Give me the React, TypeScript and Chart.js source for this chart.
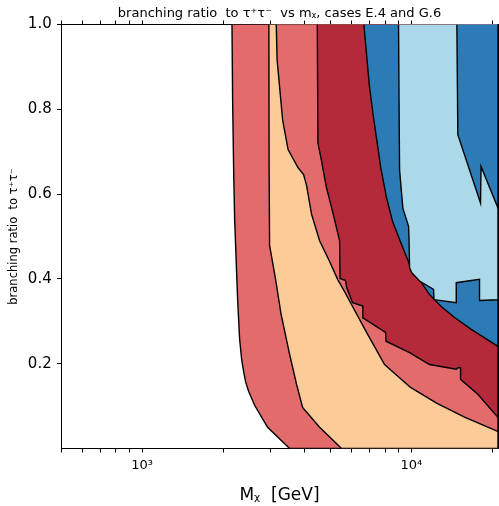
import React, { useEffect, useRef } from 'react';
import { Chart, registerables } from 'chart.js';

Chart.register(...registerables);

// ---- axis ranges / ticks ----
const X_MIN = 500;
const X_MAX = 21000;
const Y_MIN = 0;
const Y_MAX = 1;
const X_TICKS = [500, 600, 700, 800, 900, 1000, 2000, 3000, 4000, 5000, 6000, 7000, 8000, 9000, 10000, 20000];
const X_TICK_LABELS: Record<number, string> = { 1000: '10³', 10000: '10⁴' };
const Y_STEP = 0.2;

// ---- text ----
const TITLE = 'branching ratio  to τ⁺τ⁻  vs mᵪ, cases E.4 and G.6';
const X_TITLE = 'Mᵪ  [GeV]';
const Y_TITLE = 'branching ratio  to τ⁺τ⁻';

// ---- region boundaries (mass in GeV, branching ratio) ----
const B1_X = [2158, 2170, 2189, 2208, 2236, 2265, 2304, 2344, 2384, 2425, 2488, 2619, 2927, 3533];
const B1_Y = [1.0, 0.822, 0.657, 0.54, 0.446, 0.351, 0.258, 0.21, 0.182, 0.157, 0.135, 0.102, 0.05, 0.0];

const B2_X = [2959, 2965, 2977, 3134, 3286, 3533, 3751, 3948, 4566, 5511];
const B2_Y = [1.0, 0.657, 0.479, 0.399, 0.316, 0.222, 0.151, 0.097, 0.05, 0.0];

const B3_X = [3152, 3174, 3243, 3328, 3487, 3800, 3982, 4085, 4264, 4566, 4974, 5327, 5654, 6053, 6823, 7958, 9940, 12417, 15770, 21000];
const B3_Y = [1.0, 0.917, 0.853, 0.775, 0.705, 0.662, 0.646, 0.62, 0.552, 0.49, 0.441, 0.399, 0.37, 0.335, 0.274, 0.198, 0.144, 0.107, 0.074, 0.04];

const B4_X = [4477, 4500, 4633, 4835, 5116, 5418, 5440, 5702, 5751, 6053, 6610, 6610, 8027, 8061, 9856, 11694, 14694, 14923, 15248, 15248, 17672, 21000];
const B4_Y = [1.0, 0.721, 0.681, 0.617, 0.556, 0.49, 0.401, 0.396, 0.38, 0.344, 0.336, 0.308, 0.274, 0.253, 0.226, 0.198, 0.187, 0.191, 0.19, 0.163, 0.128, 0.073];

const B5_X = [6668, 6823, 6998, 7213, 7413, 7691, 8075, 8520, 9049, 9856, 10891, 11694, 12924, 14483, 16706, 21000];
const B5_Y = [1.0, 0.929, 0.853, 0.788, 0.736, 0.665, 0.594, 0.536, 0.493, 0.434, 0.392, 0.363, 0.335, 0.309, 0.281, 0.241];

const B6_X = [8970, 9009, 9049, 9307, 9772, 9813, 9856, 10025, 10735, 12100, 12150, 14694, 14694, 17930, 17930, 21000];
const B6_Y = [1.0, 0.822, 0.657, 0.567, 0.524, 0.493, 0.427, 0.415, 0.395, 0.375, 0.351, 0.344, 0.391, 0.399, 0.349, 0.351];

const B7_X = [14770, 14894, 18084, 18163, 21000];
const B7_Y = [1.0, 0.74, 0.579, 0.665, 0.567];

// ---- colours ----
const LIGHT_RED = '#e46b6c';
const PEACH = '#fccb98';
const DARK_RED = '#b42a3b';
const BLUE = '#2c7bb6';
const LIGHT_BLUE = '#abd9e9';

const LAYERS = [
  { xs: B1_X, ys: B1_Y, color: LIGHT_RED },
  { xs: B2_X, ys: B2_Y, color: PEACH },
  { xs: B3_X, ys: B3_Y, color: LIGHT_RED },
  { xs: B4_X, ys: B4_Y, color: DARK_RED },
  { xs: B5_X, ys: B5_Y, color: BLUE },
  { xs: B6_X, ys: B6_Y, color: LIGHT_BLUE },
  { xs: B7_X, ys: B7_Y, color: BLUE },
];

function polygon(xs: number[], ys: number[]) {
  const pts = xs.map((x, i) => ({ x, y: ys[i] }));
  const last = pts[pts.length - 1];
  if (last.x < X_MAX) pts.push({ x: X_MAX, y: last.y });
  pts.push({ x: X_MAX, y: Y_MAX });
  return pts;
}

const setTicks = (scale: any) => {
  scale.ticks = X_TICKS.map((v) => ({ value: v }));
};

const tickColor = (ctx: any) => (ctx.tick && Math.abs(ctx.tick.value) < 1e-9 ? 'rgba(0,0,0,0)' : '#000');

export default function App() {
  const ref = useRef<HTMLCanvasElement>(null);

  useEffect(() => {
    const canvas = ref.current;
    if (!canvas) return;
    Chart.defaults.font.family = "'DejaVu Sans'";
    Chart.defaults.color = '#000';

    const chart = new Chart(canvas, {
      type: 'line',
      data: {
        datasets: LAYERS.map((l, i) => ({
          data: polygon(l.xs, l.ys),
          backgroundColor: l.color,
          borderColor: '#000',
          borderWidth: 1.4,
          borderDash: [5000, 0],
          borderJoinStyle: 'miter',
          fill: 'shape',
          pointRadius: 0,
          tension: 0,
          order: LAYERS.length - i,
          xAxisID: 'x',
          yAxisID: 'y',
        })),
      },
      options: {
        responsive: false,
        animation: false,
        devicePixelRatio: 1,
        events: [],
        layout: { padding: 0 },
        plugins: {
          legend: { display: false },
          tooltip: { enabled: false },
          title: {
            display: true,
            text: TITLE,
            fullSize: false,
            color: '#000',
            font: { size: 13, weight: 'normal', family: "'DejaVu Sans'" },
            padding: { top: 6.3, bottom: 0 },
          },
        },
        scales: {
          x: {
            type: 'logarithmic',
            position: 'bottom',
            min: X_MIN,
            max: X_MAX,
            afterBuildTicks: setTicks,
            afterFit: (s: any) => { s.height = 57.5; },
            ticks: {
              autoSkip: false,
              maxRotation: 0,
              padding: 5,
              color: '#000',
              font: { size: 13 },
              callback: (v: any) => X_TICK_LABELS[Number(v)] ?? '',
            },
            grid: { drawOnChartArea: false, drawTicks: true, tickLength: 4, tickColor: '#000' },
            border: { display: true, color: '#000', width: 1 },
            title: { display: true, text: X_TITLE, color: '#000', font: { size: 17 }, padding: { top: 0, bottom: 0 } },
          },
          x2: {
            type: 'logarithmic',
            position: 'top',
            min: X_MIN,
            max: X_MAX,
            afterBuildTicks: setTicks,
            afterFit: (s: any) => { s.height = 2.6; },
            ticks: { display: false, autoSkip: false },
            grid: { drawOnChartArea: false, drawTicks: true, tickLength: 4, tickColor: '#000' },
            border: { display: true, color: '#000', width: 1 },
          },
          y: {
            type: 'linear',
            position: 'left',
            min: Y_MIN,
            max: Y_MAX,
            afterFit: (s: any) => { s.width = 61; },
            ticks: {
              stepSize: Y_STEP,
              padding: 5.3,
              color: '#000',
              font: { size: 15 },
              callback: (v: any) => (Math.abs(Number(v)) < 1e-9 ? '' : Number(v).toFixed(1)),
            },
            grid: { drawOnChartArea: false, drawTicks: true, tickLength: 4, tickColor },
            border: { display: true, color: '#000', width: 1 },
            title: { display: true, text: Y_TITLE, color: '#000', font: { size: 11.5 }, padding: { top: 7, bottom: 0 } },
          },
          y2: {
            type: 'linear',
            position: 'right',
            min: Y_MIN,
            max: Y_MAX,
            afterFit: (s: any) => { s.width = 1; },
            ticks: { stepSize: Y_STEP, display: false },
            grid: { drawOnChartArea: false, drawTicks: true, tickLength: -3, tickColor },
            border: { display: true, color: '#000', width: 1 },
          },
        },
      } as any,
    });
    return () => chart.destroy();
  }, []);

  return (
    <div style={{ position: 'fixed', left: 0, top: 0, width: 499, height: 506, background: '#fff' }}>
      <canvas ref={ref} width={499} height={506} style={{ display: 'block', width: 499, height: 506 }} />
    </div>
  );
}
